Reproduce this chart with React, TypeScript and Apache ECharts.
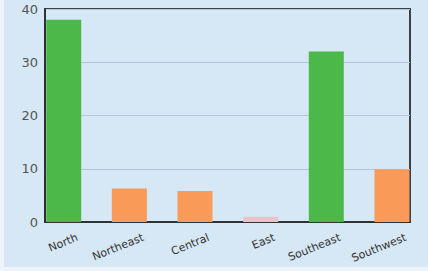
import React, { useEffect, useRef } from "react";
import * as echarts from "echarts";

const categories = ["North", "Northeast", "Central", "East", "Southeast", "Southwest"];
const values = [38, 6.3, 5.8, 1, 32, 9.9];
const barColors = ["#4db84a", "#fa9a58", "#fa9a58", "#e8c4c8", "#4db84a", "#fa9a58"];
const yTicks = { min: 0, max: 40, interval: 10 };

export default function App() {
  const ref = useRef<HTMLDivElement>(null);
  useEffect(() => {
    document.body.style.margin = "0";
    const chart = echarts.init(ref.current!, null, { renderer: "svg" });
    const shift = 0.21;
    const axisLineStyle = { color: "#2e3338", width: 2 };
    chart.setOption({
      animation: false,
      backgroundColor: "#d6e7f5",
      grid: {
        left: 41,
        right: 18,
        top: 9,
        bottom: 45,
        show: true,
        borderColor: "#3d4248",
        borderWidth: 2,
      },
      xAxis: {
        type: "value",
        min: -0.285,
        max: 5.275,
        splitLine: { show: false },
        axisTick: { show: false },
        axisLine: { show: true, onZero: false, lineStyle: axisLineStyle },
        axisLabel: {
          customValues: categories.map((_, i) => i + shift),
          formatter: (v: number) => categories[Math.round(v - shift)] ?? "",
          rotate: 22,
          margin: 15,
          color: "#333",
          fontSize: 11,
          fontFamily: "DejaVu Sans",
        },
      },
      yAxis: {
        type: "value",
        min: yTicks.min,
        max: yTicks.max,
        interval: yTicks.interval,
        axisLine: { show: true, onZero: false, lineStyle: axisLineStyle },
        axisTick: { show: false },
        splitLine: { show: true, lineStyle: { color: "#b3c6d8", width: 1 } },
        axisLabel: { color: "#555", fontSize: 13, margin: 7, fontFamily: "DejaVu Sans" },
      },
      series: [
        {
          type: "bar",
          barWidth: 35,
          clip: false,
          data: categories.map((_, i) => ({
            value: [i, values[i]],
            itemStyle: { color: barColors[i] },
          })),
        },
      ],
    });
    return () => chart.dispose();
  }, []);
  return (
    <div style={{ position: "relative", width: 428, height: 271, background: "#edf3f9" }}>
      <div ref={ref} style={{ position: "absolute", left: 4, top: 0, width: 424, height: 267 }} />
    </div>
  );
}
